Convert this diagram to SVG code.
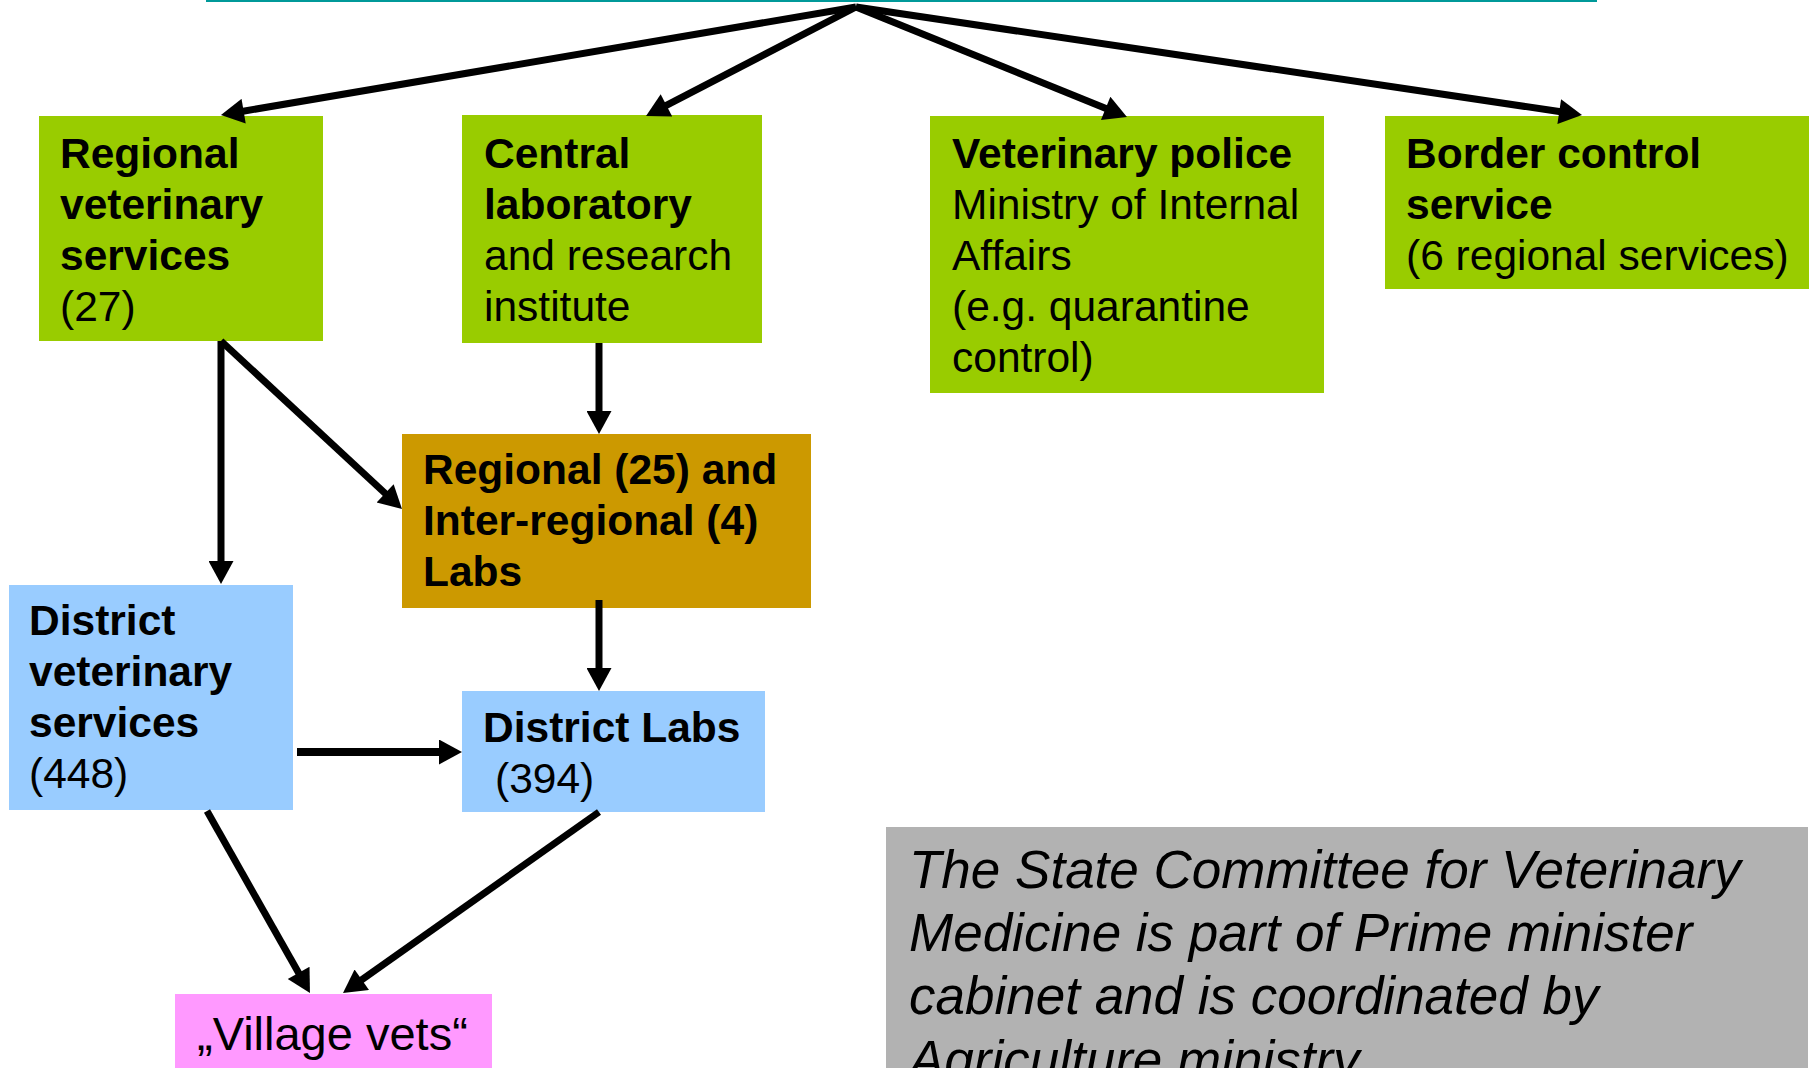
<svg xmlns="http://www.w3.org/2000/svg" width="1814" height="1068" viewBox="0 0 1814 1068">
<defs>
<style>
.t{font-family:"Liberation Sans",Arial,sans-serif;font-size:42.5px;fill:#000}
.b{font-weight:bold}
.g{font-family:"Liberation Sans",Arial,sans-serif;font-size:53px;font-style:italic;fill:#000}
.c{stroke:#000;stroke-width:7;fill:none}
.green{fill:#99cc00}
.orange{fill:#cc9900}
.blue{fill:#99ccff}
.pink{fill:#ff99ff}
.gray{fill:#b2b2b2}
</style>
<marker id="ah" markerUnits="userSpaceOnUse" markerWidth="25" markerHeight="25" viewBox="0 0 23 25" refX="5" refY="12.5" orient="auto">
<path d="M0,0 L23,12.5 L0,25 Z" fill="#000"/>
</marker>
</defs>
<rect width="1814" height="1068" fill="#fff"/>
<rect x="206" y="0" width="1391" height="2" fill="#009999"/>

<g id="regional-vet">
<rect class="green" x="39" y="116" width="284" height="225"/>
<text class="t b" x="60" y="168">Regional</text>
<text class="t b" x="60" y="219">veterinary</text>
<text class="t b" x="60" y="270">services</text>
<text class="t" x="60" y="321">(27)</text>
</g>

<g id="central-lab">
<rect class="green" x="462" y="115" width="300" height="228"/>
<text class="t b" x="484" y="168">Central</text>
<text class="t b" x="484" y="219">laboratory</text>
<text class="t" x="484" y="270">and research</text>
<text class="t" x="484" y="321">institute</text>
</g>

<g id="vet-police">
<rect class="green" x="930" y="116" width="394" height="277"/>
<text class="t b" x="952" y="168">Veterinary police</text>
<text class="t" x="952" y="219">Ministry of Internal</text>
<text class="t" x="952" y="270">Affairs</text>
<text class="t" x="952" y="321">(e.g. quarantine</text>
<text class="t" x="952" y="372">control)</text>
</g>

<g id="border-control">
<rect class="green" x="1385" y="116" width="424" height="173"/>
<text class="t b" x="1406" y="168">Border control</text>
<text class="t b" x="1406" y="219">service</text>
<text class="t" x="1406" y="270">(6 regional services)</text>
</g>

<g id="regional-labs">
<rect class="orange" x="402" y="434" width="409" height="174"/>
<text class="t b" x="423" y="484">Regional (25) and</text>
<text class="t b" x="423" y="535">Inter-regional (4)</text>
<text class="t b" x="423" y="586">Labs</text>
</g>

<g id="district-vet">
<rect class="blue" x="9" y="585" width="284" height="225"/>
<text class="t b" x="29" y="635">District</text>
<text class="t b" x="29" y="686">veterinary</text>
<text class="t b" x="29" y="737">services</text>
<text class="t" x="29" y="788">(448)</text>
</g>

<g id="district-labs">
<rect class="blue" x="462" y="691" width="303" height="121"/>
<text class="t b" x="483" y="742">District Labs</text>
<text class="t" x="495" y="793">(394)</text>
</g>

<g id="village-vets">
<rect class="pink" x="175" y="994" width="317" height="74"/>
<text class="t" x="197" y="1050" style="font-size:47px">„Village vets“</text>
</g>

<g id="note">
<rect class="gray" x="886" y="827" width="922" height="241"/>
<text class="g" x="909" y="888">The State Committee for Veterinary</text>
<text class="g" x="909" y="951">Medicine is part of Prime minister</text>
<text class="g" x="909" y="1014">cabinet and is coordinated by</text>
<text class="g" x="909" y="1078">Agriculture ministry</text>
</g>

<g id="connectors">
<line class="c" x1="856" y1="7" x2="238.7" y2="112" marker-end="url(#ah)"/>
<line class="c" x1="856" y1="7" x2="662" y2="107.7" marker-end="url(#ah)"/>
<line class="c" x1="856" y1="7" x2="1110.3" y2="110.2" marker-end="url(#ah)"/>
<line class="c" x1="856" y1="7" x2="1564.2" y2="112.3" marker-end="url(#ah)"/>
<line class="c" x1="221" y1="341" x2="221" y2="566" marker-end="url(#ah)"/>
<line class="c" x1="221" y1="341" x2="388.8" y2="496.8" marker-end="url(#ah)"/>
<line class="c" x1="599" y1="343" x2="599" y2="416" marker-end="url(#ah)"/>
<line class="c" x1="599" y1="600" x2="599" y2="673" marker-end="url(#ah)"/>
<line class="c" x1="297" y1="752" x2="444" y2="752" style="stroke-width:8" marker-end="url(#ah)"/>
<line class="c" x1="207" y1="811" x2="301.1" y2="977.3" marker-end="url(#ah)"/>
<line class="c" x1="599" y1="812" x2="357.7" y2="982.6" marker-end="url(#ah)"/>
</g>
</svg>
